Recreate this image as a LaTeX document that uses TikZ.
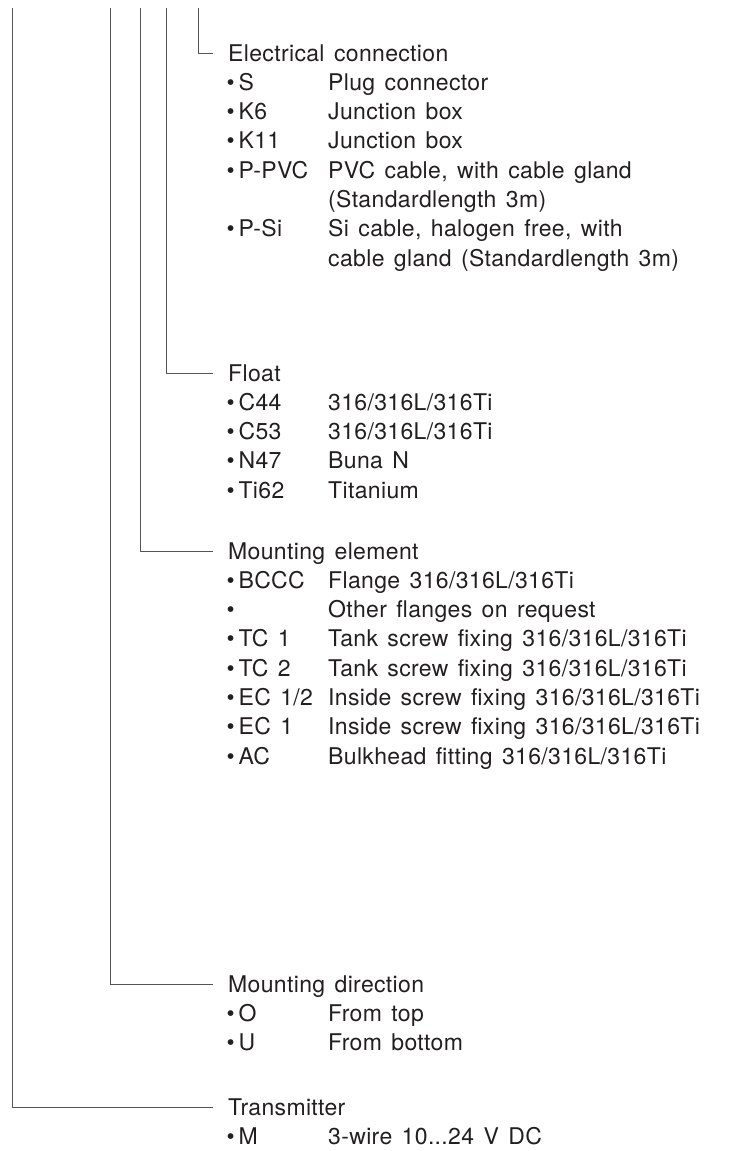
\documentclass[tikz,border=0pt]{standalone}
\usepackage{fontspec}
\setmainfont{TeX Gyre Heros}[WordSpace=1.4, LetterSpace=1.5]
\usepackage{xcolor}
\usetikzlibrary{positioning}
\definecolor{inkgray}{HTML}{231F20}
\definecolor{linegray}{HTML}{555555}

\begin{document}
\begin{tikzpicture}[x=1pt, y=-1pt, inner sep=0pt, font=\fontsize{23}{29.3}\selectfont,
  head/.style={anchor=west, text height=16.5pt, text depth=0pt, text=inkgray},
  code/.style={anchor=base west, text=inkgray},
  desc/.style={anchor=base west, text=inkgray},
  link/.style={draw=linegray, line width=0.9pt}]
\useasboundingbox (0,0) rectangle (734,1151);

% Electrical connection
\node[head] (elec) at (228,53) {Electrical connection};
\foreach \code/\desc [count=\i] in {{•\,S}/{Plug connector}, {•\,K6}/{Junction box},
    {•\,K11}/{Junction box}, {•\,P-PVC}/{PVC cable, with cable gland},
    {}/{(Standardlength 3m)}, {•\,P-Si}/{Si cable, halogen free, with},
    {}/{cable gland (Standardlength 3m)}}
  {
    \node[code] (elec code \i) at (226.5, 61+29.3*\i) {\code};
    \node[desc] (elec desc \i) at (328, 61+29.3*\i) {\desc};
  }

% Float
\node[head] (float) at (228,373) {Float};
\foreach \code/\desc [count=\i] in {{•\,C44}/{316/316L/316Ti}, {•\,C53}/{316/316L/316Ti},
    {•\,N47}/{Buna N}, {•\,Ti62}/{Titanium}}
  {
    \node[code] (float code \i) at (226.5, 381+29.3*\i) {\code};
    \node[desc] (float desc \i) at (328, 381+29.3*\i) {\desc};
  }

% Mounting element
\node[head] (elem) at (228,551) {Mounting element};
\foreach \code/\desc [count=\i] in {{•\,BCCC}/{Flange 316/316L/316Ti}, {•}/{Other flanges on request},
    {•\,TC 1}/{Tank screw fixing 316/316L/316Ti}, {•\,TC 2}/{Tank screw fixing 316/316L/316Ti},
    {•\,EC 1/2}/{Inside screw fixing 316/316L/316Ti}, {•\,EC 1}/{Inside screw fixing 316/316L/316Ti},
    {•\,AC}/{Bulkhead fitting 316/316L/316Ti}}
  {
    \node[code] (elem code \i) at (226.5, 559+29.3*\i) {\code};
    \node[desc] (elem desc \i) at (328, 559+29.3*\i) {\desc};
  }

% Mounting direction
\node[head] (dir) at (228,984) {Mounting direction};
\foreach \code/\desc [count=\i] in {{•\,O}/{From top}, {•\,U}/{From bottom}}
  {
    \node[code] (dir code \i) at (226.5, 992+29.3*\i) {\code};
    \node[desc] (dir desc \i) at (328, 992+29.3*\i) {\desc};
  }

% Transmitter
\node[head] (trans) at (228,1107) {Transmitter};
\node[code] (trans code 1) at (226.5, 1144.3) {•\,M};
\node[desc] (trans desc 1) at (328, 1144.3) {3-wire 10...24 V DC};

% Key lines
\coordinate (trans top) at (12,8);
\coordinate (dir top) at (110,8);
\coordinate (elem top) at (140,8);
\coordinate (float top) at (166,8);
\coordinate (elec top) at (198,8);
\draw[link] (trans top) |- ([xshift=-15pt]trans.west);
\draw[link] (dir top) |- ([xshift=-15pt]dir.west);
\draw[link] (elem top) |- ([xshift=-15pt]elem.west);
\draw[link] (float top) |- ([xshift=-15pt]float.west);
\draw[link] (elec top) |- ([xshift=-15pt]elec.west);
\end{tikzpicture}
\end{document}
